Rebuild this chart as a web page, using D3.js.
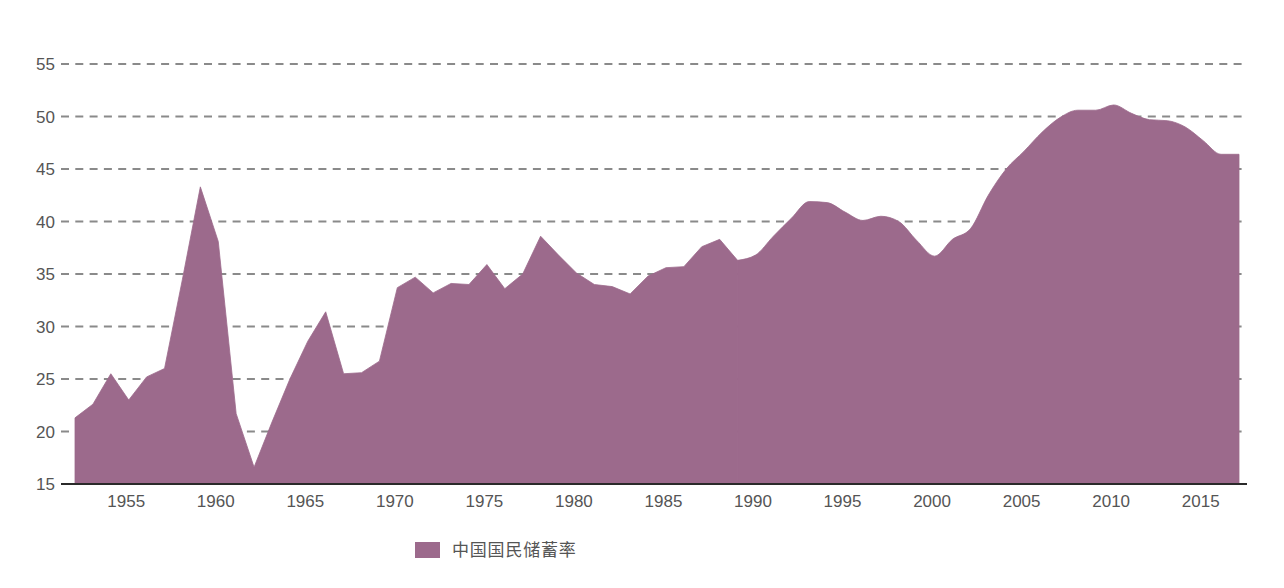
<!DOCTYPE html>
<html>
<head>
<meta charset="utf-8">
<script src="https://cdn.jsdelivr.net/npm/d3@7"></script>
<style>
  html, body { margin: 0; padding: 0; background: #ffffff; }
  svg { display: block; }
</style>
</head>
<body>
<svg id="chart" width="1284" height="588"></svg>
<script>
// ---- data ----
const years = d3.range(1952, 2018);
const savingsRate = [
  21.3, 22.6, 25.5, 23.0, 25.2, 26.0, 34.5, 43.3, 38.1, 21.7,   // 1952-1961
  16.6, 20.9, 25.0, 28.6, 31.4, 25.5, 25.6, 26.7, 33.7, 34.7,   // 1962-1971
  33.2, 34.1, 34.0, 35.9, 33.6, 35.0, 38.6, 36.8, 35.1, 34.0,   // 1972-1981
  33.8, 33.1, 34.8, 35.6, 35.7, 37.6, 38.3, 36.3, 36.8, 38.6,   // 1982-1991
  40.3, 41.9, 41.8, 40.9, 40.1, 40.5, 40.0, 38.2, 36.7, 38.3,   // 1992-2001
  39.3, 42.5, 45.0, 46.7, 48.5, 49.9, 50.6, 50.6, 51.1, 50.3,   // 2002-2011
  49.7, 49.6, 49.0, 47.7, 46.4, 46.4                            // 2012-2017
];
const yTicks = [15, 20, 25, 30, 35, 40, 45, 50, 55];
const xTicks = [1955, 1960, 1965, 1970, 1975, 1980, 1985, 1990, 1995, 2000, 2005, 2010, 2015];
const seriesName = "中国国民储蓄率";
const smoothFrom = 1989; // later part of the curve is drawn smoothed

const data = years.map((yr, i) => ({ year: yr, value: savingsRate[i] }));

// ---- layout ----
const svg = d3.select("#chart");
const fill = "#9c6a8c";
const textColor = "#555555";
const font = "'Liberation Sans', Arial, Helvetica, sans-serif";

const x = d3.scaleLinear().domain([1952, 2017]).range([75, 1239]);
const y = d3.scaleLinear().domain([15, 55]).range([484, 64]);

const gridLeft = 61, gridRight = 1247;

// gridlines (dashed)
svg.append("g")
  .selectAll("line")
  .data(yTicks.filter(t => t !== 15))
  .join("line")
  .attr("x1", gridLeft).attr("x2", gridRight)
  .attr("y1", d => y(d)).attr("y2", d => y(d))
  .attr("stroke", "#8a8a8a")
  .attr("stroke-width", 2)
  .attr("stroke-dasharray", "8,6.3");

// area: early part linear, later part smooth
const areaLinear = d3.area()
  .x(d => x(d.year)).y0(y(15)).y1(d => y(d.value))
  .curve(d3.curveLinear);
const areaSmooth = d3.area()
  .x(d => x(d.year)).y0(y(15)).y1(d => y(d.value))
  .curve(d3.curveMonotoneX);

svg.append("path")
  .datum(data.filter(d => d.year <= smoothFrom))
  .attr("d", areaLinear)
  .attr("fill", fill)
  .attr("stroke", fill)
  .attr("stroke-width", 0.8)
  .attr("stroke-linejoin", "round");
svg.append("path")
  .datum(data.filter(d => d.year >= smoothFrom))
  .attr("d", areaSmooth)
  .attr("fill", fill)
  .attr("stroke", fill)
  .attr("stroke-width", 0.8)
  .attr("stroke-linejoin", "round");

// x axis baseline
svg.append("line")
  .attr("x1", gridLeft).attr("x2", gridRight)
  .attr("y1", y(15)).attr("y2", y(15))
  .attr("stroke", "#2a2a2a")
  .attr("stroke-width", 2);

// y axis labels
const yAxis = d3.axisLeft(y).tickValues(yTicks).tickSize(0).tickPadding(0).tickFormat(d3.format("d"));
const gy = svg.append("g").attr("transform", "translate(55,0)").call(yAxis);
gy.select(".domain").remove();
gy.selectAll("text")
  .attr("fill", textColor)
  .attr("font-family", font)
  .attr("font-size", 17)
  .attr("dy", "0.35em");

// x axis labels
const xAxis = d3.axisBottom(x).tickValues(xTicks).tickSize(0).tickPadding(0).tickFormat(d3.format("d"));
const gx = svg.append("g").attr("transform", "translate(-3,495)").call(xAxis);
gx.select(".domain").remove();
gx.selectAll("text")
  .attr("fill", textColor)
  .attr("font-family", font)
  .attr("font-size", 17)
  .attr("dy", "0.72em");

// legend
const legend = svg.append("g").attr("transform", "translate(415,542)");
legend.append("rect")
  .attr("width", 25).attr("height", 16)
  .attr("fill", fill);
legend.append("text")
  .attr("x", 37).attr("y", 8)
  .attr("dy", "0.36em")
  .attr("fill", textColor)
  .attr("font-family", "'Noto Sans CJK SC', sans-serif")
  .attr("font-size", 17)
  .attr("letter-spacing", 0.8)
  .text(seriesName);
</script>
</body>
</html>
